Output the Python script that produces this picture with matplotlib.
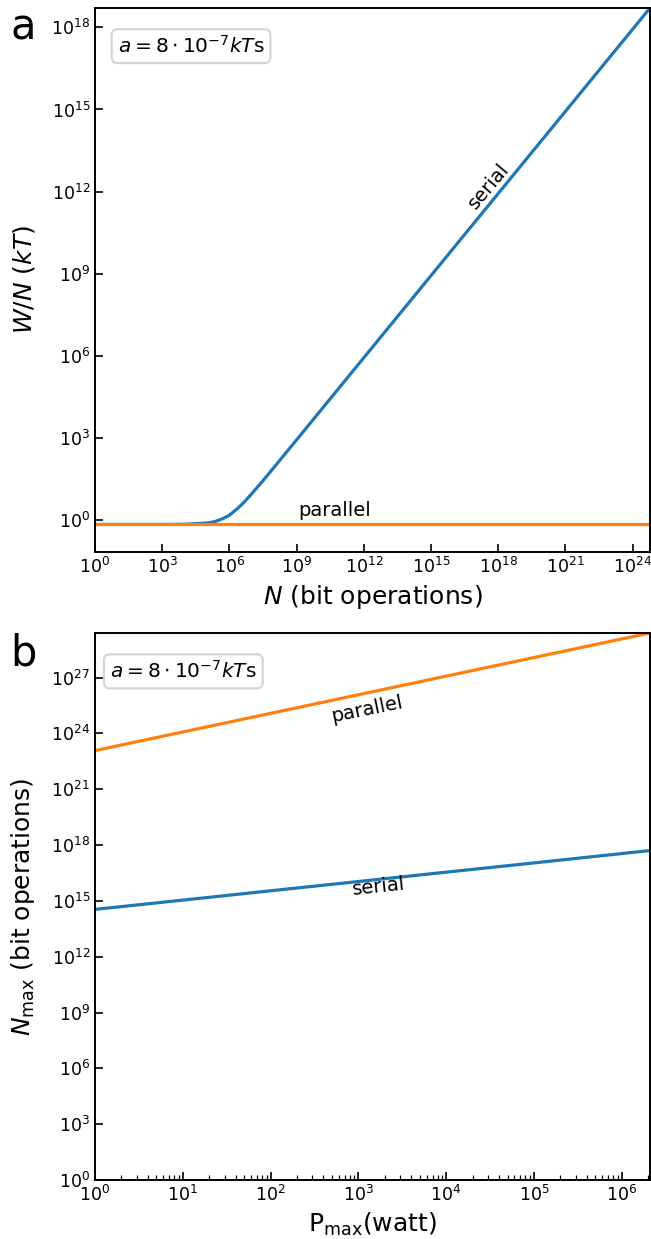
import matplotlib.pyplot as plt
from matplotlib.ticker import LogLocator, NullLocator

# panel a: energy per operation vs number of operations
N_ops = [1, 1e3, 1e4, 1e5, 2e5, 3e5, 5e5, 1e6, 2e6, 3e6, 5e6, 1e7, 3e7,
         1e8, 1e9, 1e12, 1e15, 1e18, 1e21, 1e24, 6e24]
W_serial = [0.69, 0.69, 0.70, 0.78, 0.86, 0.95, 1.12, 1.5, 2.4, 3.2, 4.9,
            9.2, 26, 86, 850, 8.5e5, 8.5e8, 8.5e11, 8.5e14, 8.5e17, 5.1e18]
W_parallel = [0.69] * len(N_ops)

# panel b: max operations vs power
P_max = [1, 10, 100, 1e3, 1e4, 1e5, 1e6, 2.1e6]
N_parallel = [1.2e23, 1.2e24, 1.2e25, 1.2e26, 1.2e27, 1.2e28, 1.2e29, 2.5e29]
N_serial = [3.5e14, 1.1e15, 3.5e15, 1.1e16, 3.5e16, 1.1e17, 3.5e17, 5.1e17]

ticks_a_x = [10.0**k for k in range(0, 25, 3)]
ticks_a_y = [10.0**k for k in range(0, 19, 3)]
ticks_b_y = [10.0**k for k in range(0, 28, 3)]

blue = '#1f77b4'
orange = '#ff7f0e'
lw = 2.3

fig = plt.figure(figsize=(6.51, 12.39), dpi=100)
W, H = 651, 1239
ax1 = fig.add_axes([95 / W, (H - 552) / H, 555 / W, 544 / H])
ax2 = fig.add_axes([95 / W, (H - 1180) / H, 555 / W, 547 / H])

ax1.loglog(N_ops, W_serial, color=blue, lw=lw)
ax1.loglog(N_ops, W_parallel, color=orange, lw=lw)
ax1.set_xlim(1, 6e24)
ax1.set_ylim(0.068, 5.1e18)
ax1.set_xticks(ticks_a_x)
ax1.set_yticks(ticks_a_y)
ax1.xaxis.set_minor_locator(NullLocator())
ax1.yaxis.set_minor_locator(NullLocator())
ax1.set_xlabel('$N$ (bit operations)', fontsize=18)
ax1.set_ylabel('$W/N$ ($kT$)', fontsize=18, labelpad=10)
ax1.text(10**17.6, 10**12.2, 'serial', rotation=50, fontsize=14, ha='center', va='center')
ax1.text(10**10.7, 2.3, 'parallel', fontsize=14, ha='center', va='center')

ax2.loglog(P_max, N_serial, color=blue, lw=lw)
ax2.loglog(P_max, N_parallel, color=orange, lw=lw)
ax2.set_xlim(1, 2.1e6)
ax2.set_ylim(1, 2.5e29)
ax2.set_yticks(ticks_b_y)
ax2.xaxis.set_major_locator(LogLocator(base=10, numticks=10))
ax2.xaxis.set_minor_locator(LogLocator(base=10, subs=range(2, 10), numticks=20))
ax2.yaxis.set_minor_locator(NullLocator())
ax2.set_xlabel(r'$\mathrm{P_{max}}$(watt)', fontsize=18)
ax2.set_ylabel(r'$N_{\mathrm{max}}$ (bit operations)', fontsize=18, labelpad=10)
ax2.text(10**3.1, 10**25.3, 'parallel', rotation=11.5, fontsize=14, ha='center', va='center')
ax2.text(10**3.23, 10**15.75, 'serial', rotation=6, fontsize=14, ha='center', va='center')

for ax, bx in ((ax1, 0.041), (ax2, 0.027)):
    ax.tick_params(which='both', direction='in', labelsize=12.5)
    ax.tick_params(which='major', length=6, width=1.2)
    ax.tick_params(which='minor', length=3.5, width=0.9)
    for s in ax.spines.values():
        s.set_linewidth(1.4)
    ax.text(bx, 0.95, r'$a = 8\cdot10^{-7}kT$s', transform=ax.transAxes,
            fontsize=14.5, ha='left', va='top',
            bbox=dict(boxstyle='round', facecolor='white', edgecolor='lightgray',
                      linewidth=1.5))

fig.text(23 / W, 1 - 40 / H, 'a', fontsize=30, ha='center', va='baseline')
fig.text(23 / W, 1 - 665 / H, 'b', fontsize=30, ha='center', va='baseline')

fig.savefig('out.png', dpi=100)
